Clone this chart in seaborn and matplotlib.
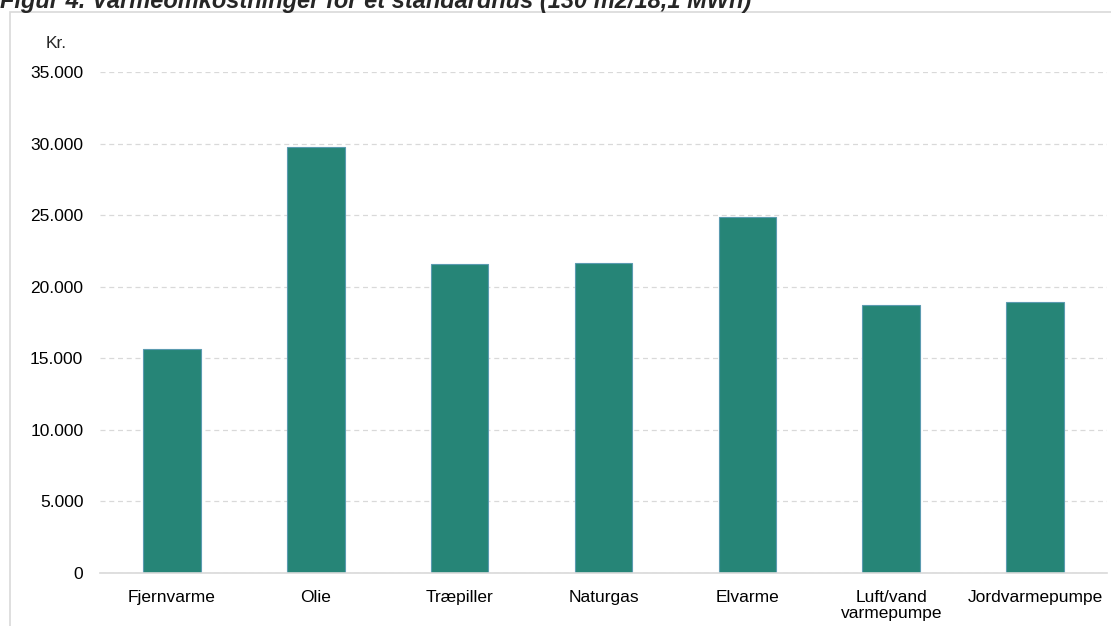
import matplotlib
matplotlib.use('Agg')
import numpy as np
import pandas as pd
import seaborn as sns
from matplotlib import pyplot as plt
from matplotlib.patches import Rectangle
from matplotlib.ticker import FuncFormatter

categories = ['Fjernvarme', 'Olie', 'Træpiller', 'Naturgas', 'Elvarme',
              'Luft/vand\nvarmepumpe', 'Jordvarmepumpe']
costs = [15630, 29780, 21570, 21640, 24890, 18720, 18930]
y_ticks = [0, 5000, 10000, 15000, 20000, 25000, 30000, 35000]

df = pd.DataFrame({'type': categories, 'kr': costs})

sns.set_style('white')
plt.rcParams['font.family'] = ['Liberation Sans', 'DejaVu Sans']

fig = plt.figure(figsize=(11.11, 6.26), dpi=100)
ax = fig.add_axes([100 / 1111, 1 - 573 / 626, 1007 / 1111, 501 / 626])

sns.barplot(data=df, x='type', y='kr', color='#268577', width=0.4,
            edgecolor='#5b9bb0', linewidth=0.8, saturation=1, ax=ax)

ax.set_ylim(0, 35000)
ax.set_yticks(y_ticks)
ax.yaxis.set_major_formatter(FuncFormatter(lambda v, p: f'{int(v):,}'.replace(',', '.')))
ax.grid(axis='y', color='#d9d9d9', linestyle=(0, (4, 3)), linewidth=0.9)
ax.set_axisbelow(True)
for s in ['top', 'right', 'left']:
    ax.spines[s].set_visible(False)
ax.spines['bottom'].set_color('#d9d9d9')
ax.spines['bottom'].set_linewidth(1.2)
ax.tick_params(axis='both', length=0, labelsize=12.5, colors='black')
ax.tick_params(axis='y', pad=12)
ax.tick_params(axis='x', pad=12)
for lbl in ax.get_xticklabels():
    lbl.set_linespacing(1.15)
ax.set_xlabel('')
ax.set_ylabel('')

fig.text(56 / 1111, 1 - 43 / 626, 'Kr.', fontsize=12.5, ha='center', va='center')
fig.text(0.0, 1 - 8 / 626, 'Figur 4. Varmeomkostninger for et standardhus (130 m2/18,1 MWh)',
         fontsize=17, fontweight='bold', fontstyle='italic', ha='left', va='baseline')

fig.add_artist(Rectangle((10 / 1111, -0.01), 1.2, 1 - 12 / 626 + 0.01,
                         transform=fig.transFigure, fill=False,
                         edgecolor='#d9d9d9', linewidth=1.2))

fig.savefig('out.png', dpi=100)
